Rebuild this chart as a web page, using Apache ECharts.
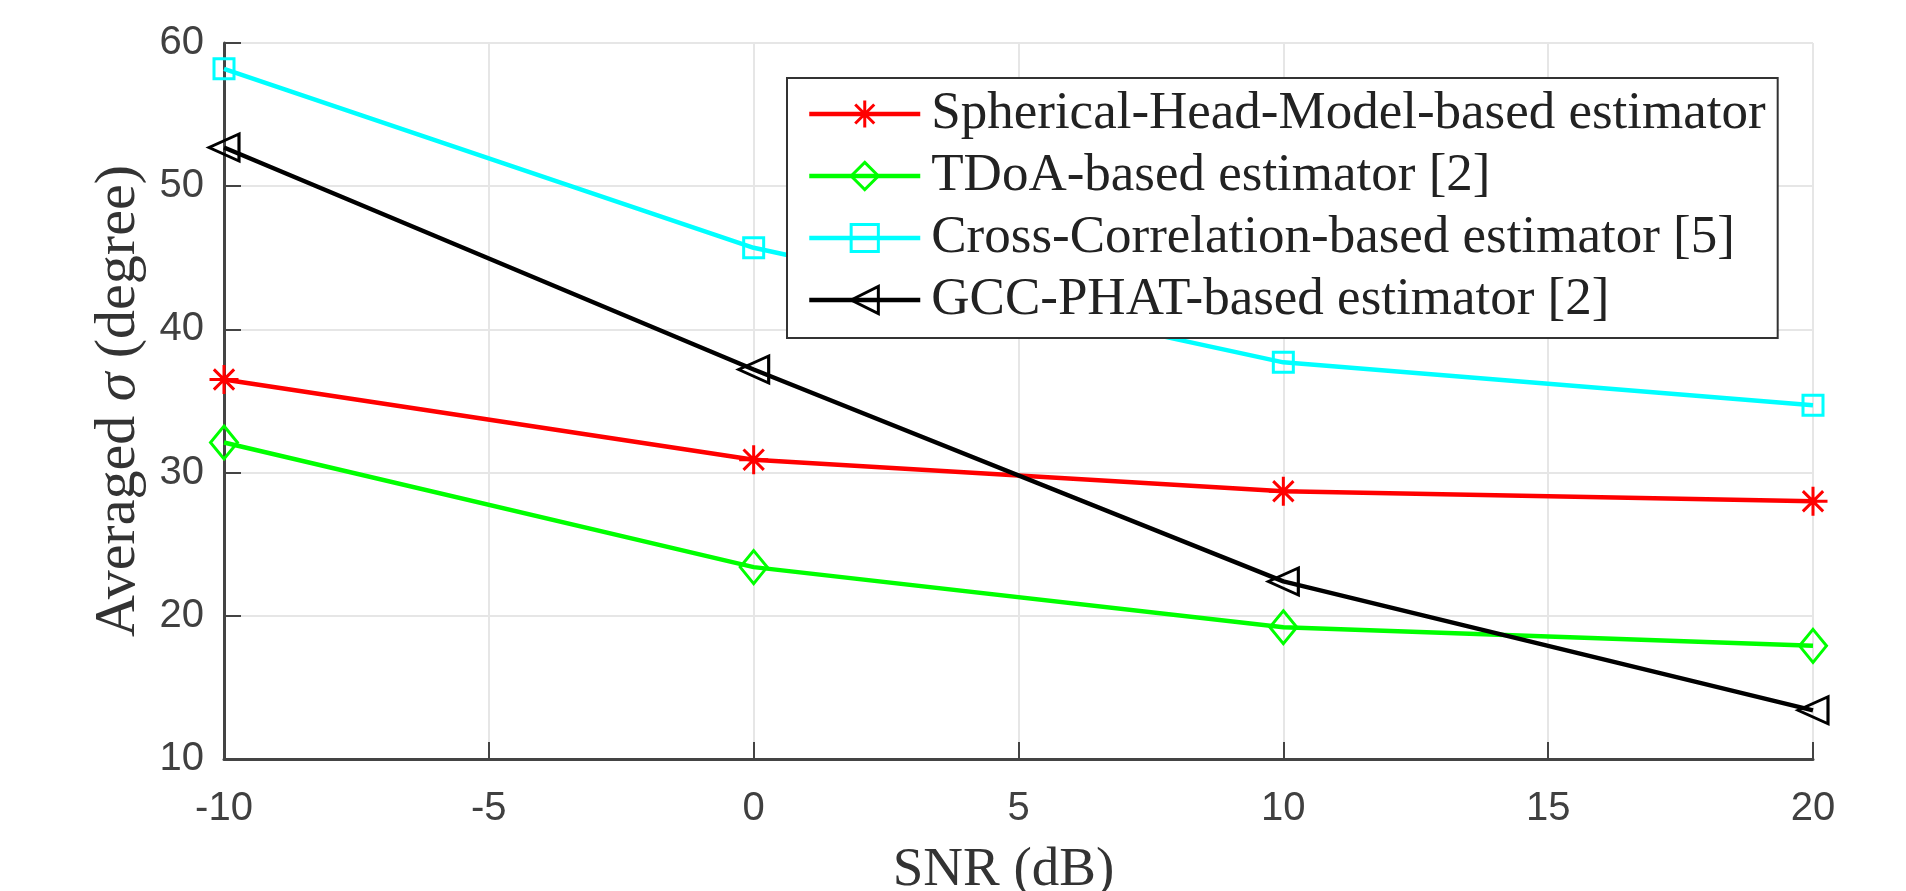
<!DOCTYPE html>
<html>
<head>
<meta charset="utf-8">
<script src="https://cdn.jsdelivr.net/npm/echarts@6/dist/echarts.min.js"></script>
<style>
html, body { margin: 0; padding: 0; background: #fff; }
#main { width: 1906px; height: 891px; }
</style>
</head>
<body>
<div id="main"></div>
<script>
// SNR values (dB) on the x axis
var snr = [-10, 0, 10, 20]
// averaged sigma (degree) per estimator
var sphericalHead = [36.5, 30.9, 28.7, 28.0]
var tdoa = [32.1, 23.4, 19.2, 17.9]
var crossCorr = [58.2, 45.7, 37.7, 34.7]
var gccPhat = [52.7, 37.2, 22.4, 13.4]

var seriesNames = [
  'Spherical-Head-Model-based estimator',
  'TDoA-based estimator [2]',
  'Cross-Correlation-based estimator [5]',
  'GCC-PHAT-based estimator [2]'
]

var serif = '"Liberation Serif", "DejaVu Serif", serif'
var sans = '"Liberation Sans", Arial, sans-serif'
var asterisk = 'path://M0,-10 L0,10 M-10,0 L10,0 M-7,-7 L7,7 M-7,7 L7,-7'

function pairs (ys) {
  return snr.map(function (x, i) { return [x, ys[i]] })
}

function makeSeries (name, ys, color, symbol, size, rotate) {
  return {
    name: name,
    type: 'line',
    data: pairs(ys),
    symbol: symbol,
    symbolSize: size,
    symbolRotate: rotate || 0,
    lineStyle: { color: color, width: 4.5 },
    itemStyle: { color: 'transparent', borderColor: color, borderWidth: 3 },
    emphasis: { disabled: true }
  }
}

var chart = echarts.init(document.getElementById('main'))
chart.setOption({
  animation: false,
  grid: { left: 224, right: 93, top: 43, bottom: 132, outerBoundsMode: 'none', containLabel: false },
  legend: {
    orient: 'vertical',
    left: 787,
    top: 78,
    padding: [8, 12, 10, 20],
    itemGap: 6,
    itemWidth: 111,
    itemHeight: 34,
    backgroundColor: '#fff',
    borderColor: '#333',
    borderWidth: 2,
    borderRadius: 0,
    lineStyle: { width: 4.5 },
    itemStyle: { borderWidth: 3 },
    textStyle: { fontFamily: serif, fontSize: 53, color: '#222', lineHeight: 56, padding: [0, 0, 0, 6] },
    data: seriesNames
  },
  xAxis: {
    type: 'value',
    min: -10,
    max: 20,
    interval: 5,
    name: 'SNR (dB)',
    nameLocation: 'middle',
    nameGap: 84,
    nameTextStyle: { fontFamily: serif, fontSize: 55, color: '#333', padding: [0, 30, 0, 0] },
    axisLine: { show: true, onZero: false, lineStyle: { color: '#444', width: 3 } },
    axisTick: { show: true, inside: true, length: 17, lineStyle: { color: '#444', width: 2 } },
    axisLabel: { fontFamily: sans, fontSize: 40, color: '#404040', margin: 30 },
    splitLine: { show: true, lineStyle: { color: '#e6e6e6', width: 2 } }
  },
  yAxis: {
    type: 'value',
    min: 10,
    max: 60,
    interval: 10,
    name: '{n|Averaged }{s|σ}{n| (degree)}',
    nameLocation: 'middle',
    nameGap: 76,
    nameTextStyle: {
      rich: {
        n: { fontFamily: serif, fontSize: 58, color: '#333' },
        s: { fontFamily: serif, fontSize: 58, color: '#333', fontStyle: 'italic' }
      }
    },
    axisLine: { show: true, onZero: false, lineStyle: { color: '#444', width: 3 } },
    axisTick: { show: true, inside: true, length: 17, lineStyle: { color: '#444', width: 2 } },
    axisLabel: { fontFamily: sans, fontSize: 40, color: '#404040', margin: 20 },
    splitLine: { show: true, lineStyle: { color: '#e6e6e6', width: 2 } }
  },
  series: [
    makeSeries(seriesNames[0], sphericalHead, '#ff0000', asterisk, 29),
    makeSeries(seriesNames[1], tdoa, '#00ff00', 'diamond', [27, 33]),
    makeSeries(seriesNames[2], crossCorr, '#00ffff', 'rect', 20),
    makeSeries(seriesNames[3], gccPhat, '#000000', 'triangle', [27, 30], 90)
  ]
})
</script>
</body>
</html>
